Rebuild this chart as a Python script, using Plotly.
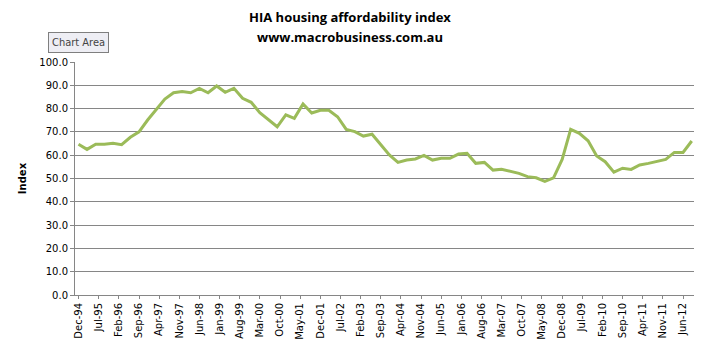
import plotly.graph_objects as go

dates = []
for y in range(1994, 2013):
    for m in (3, 6, 9, 12):
        if (y == 1994 and m < 12) or (y == 2012 and m > 9):
            continue
        dates.append(f"{y}-{m:02d}-01")

index_values = [
    64.7,
    62.5, 64.7, 64.7, 65.1,
    64.5, 67.7, 70.0, 75.1,
    79.4, 84.1, 86.8, 87.3,
    86.8, 88.7, 86.8, 89.7,
    87.0, 88.7, 84.4, 82.7,
    78.2, 75.4, 72.2, 77.3,
    75.8, 82.0, 78.1, 79.3,
    79.3, 76.5, 71.1, 70.1,
    68.2, 69.0, 64.4, 60.1,
    56.9, 57.9, 58.4, 59.9,
    57.9, 58.7, 58.7, 60.5,
    60.8, 56.5, 56.9, 53.6,
    54.0, 53.2, 52.2, 50.8,
    50.3, 48.8, 50.3, 58.2,
    71.1, 69.4, 66.2, 59.7,
    57.2, 52.7, 54.4, 53.9,
    55.8, 56.5, 57.4, 58.2,
    61.2, 61.2, 66.1,
]

title_line1 = "HIA housing affordability index"
title_line2 = "www.macrobusiness.com.au"

fig = go.Figure()
fig.add_trace(go.Scatter(
    x=dates, y=index_values, mode="lines",
    line=dict(color="#9BBB59", width=3),
    hoverinfo="skip",
))

font_ticks = dict(family="DejaVu Sans", size=10, color="#000000")

fig.update_layout(
    width=704, height=351,
    margin=dict(l=75, r=10, t=62, b=56),
    paper_bgcolor="white", plot_bgcolor="white",
    showlegend=False,
    xaxis=dict(
        type="date",
        range=["1994-10-25", "2012-09-25"],
        tick0="1994-12-01", dtick="M7",
        tickformat="%b-%y",
        tickangle=-90,
        tickfont=font_ticks,
        showgrid=False,
        showline=True, linecolor="#868686", linewidth=1,
        ticks="outside", ticklen=3, tickcolor="#868686",
        zeroline=False,
    ),
    yaxis=dict(
        range=[0, 100], dtick=10, tickformat=".1f",
        tickfont=font_ticks,
        showgrid=True, gridcolor="#868686", gridwidth=1,
        showline=True, linecolor="#868686", linewidth=1,
        ticks="outside", ticklen=4, tickcolor="#868686",
        zeroline=False,
        title=dict(text="<b>Index</b>", font=dict(family="DejaVu Sans", size=10, color="#000000"), standoff=10),
    ),
)

plot_w = 704 - 75 - 10
plot_h = 351 - 62 - 56
def px_to_paper(px, py):
    return (px - 75) / plot_w, (351 - 56 - py) / plot_h

x1, y1 = px_to_paper(350, 17)
x2, y2 = px_to_paper(350, 37)
xc, yc = px_to_paper(78, 42)
title_font = dict(family="Open Sans", size=13, color="#000000")
fig.add_annotation(text=f"<b>{title_line1}</b>", x=x1, y=y1, xref="paper", yref="paper",
                   xanchor="center", yanchor="middle", showarrow=False, font=title_font)
fig.add_annotation(text=f"<b>{title_line2}</b>", x=x2, y=y2, xref="paper", yref="paper",
                   xanchor="center", yanchor="middle", showarrow=False, font=title_font)
fig.add_annotation(text="Chart Area", x=xc, y=yc, xref="paper", yref="paper",
                   xanchor="center", yanchor="middle", showarrow=False,
                   font=dict(family="DejaVu Sans Condensed", size=11, color="#444444"),
                   bgcolor="#EEEEF4", bordercolor="#7F7F7F", borderwidth=1, borderpad=3)

fig.write_html("out.html")
